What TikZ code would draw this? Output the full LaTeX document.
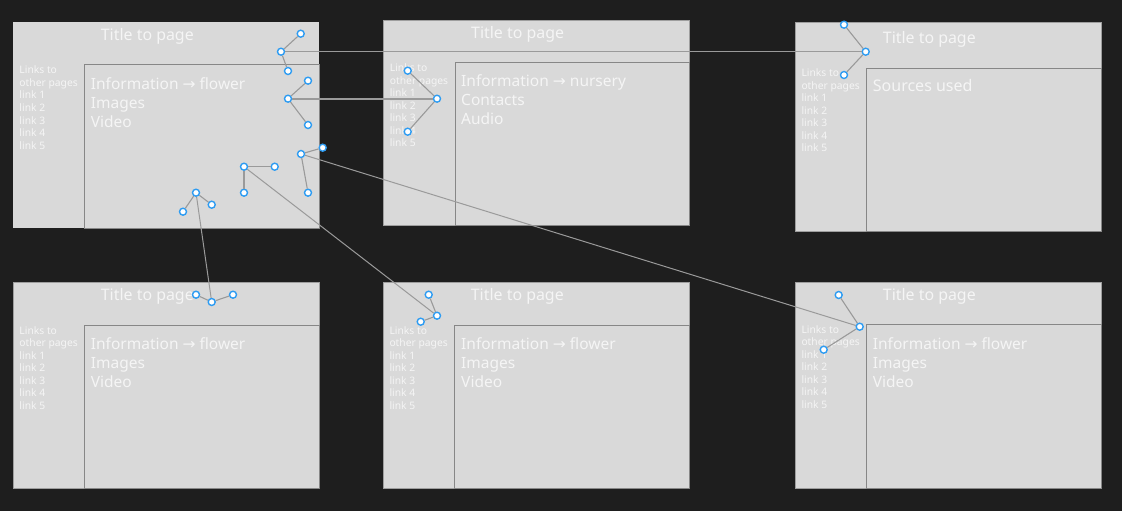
\documentclass[tikz,border=0pt]{standalone}
\usepackage{fontspec}
\setmainfont{Noto Sans}
\newfontfamily\arrowfont{DejaVu Sans}
\newcommand\rarr{{\arrowfont →}}
\definecolor{bg}{HTML}{1E1E1E}
\definecolor{panelgray}{HTML}{D9D9D9}
\definecolor{panelborder}{HTML}{9E9E9E}
\definecolor{innerline}{HTML}{878787}
\definecolor{txt}{HTML}{F5F5F5}
\definecolor{connline}{HTML}{9A9A9A}
\definecolor{handleblue}{HTML}{2E9CF2}
\newcommand\linkcol[3]{%
  \foreach \t [count=\i from 0] in {Links to,other pages,link 1,link 2,link 3,link 4,link 5}
    {\node[smalltxt] (#1-l\i) at (#2,{#3+12.5*\i}) {\t};}}
\newcommand\contentcol[6]{%
  \node[bigtxt] (#1-c0) at (#2,#3) {#4};
  \node[bigtxt] (#1-c1) at (#2,#3+19) {#5};
  \node[bigtxt] (#1-c2) at (#2,#3+38) {#6};}
\begin{document}
\begin{tikzpicture}[x=1pt,y=-1pt,
  panel/.style={fill=panelgray,draw=panelborder,line width=0.5pt},
  innerbox/.style={draw=innerline,line width=1pt},
  titletxt/.style={anchor=base west,inner sep=0pt,text=txt,font=\fontsize{15.9}{18}\selectfont},
  bigtxt/.style={anchor=base west,inner sep=0pt,text=txt,font=\fontsize{15.5}{19}\selectfont},
  smalltxt/.style={anchor=base west,inner sep=0pt,text=txt,font=\fontsize{10.3}{12}\selectfont},
  handle/.style={circle,draw=handleblue,fill=white,line width=1.4pt,minimum size=7pt,inner sep=0pt},
  conn/.style={draw=connline,line width=1.1pt},
  longconn/.style={draw=connline,line width=1pt}]
\useasboundingbox[fill=bg] (0,0) rectangle (1122,511);
% panels
\path[panel,draw=none] (13,22) rectangle (319,228);
\path[innerbox] (84.7,64.3) rectangle (319,228);
\path[panel] (383,20) rectangle (689,225);
\path[innerbox] (455.7,62.3) rectangle (689,225);
\path[panel] (795,22) rectangle (1101,231);
\path[innerbox] (866.3,68.3) rectangle (1101,231);
\path[panel] (13,282) rectangle (319,488);
\path[innerbox] (84.7,325.3) rectangle (319,488);
\path[panel] (383,282) rectangle (689,488);
\path[innerbox] (454.7,325.3) rectangle (689,488);
\path[panel] (795,282) rectangle (1101,488);
\path[innerbox] (866.3,324.3) rectangle (1101,488);
% texts
\node[titletxt] (t1) at (100.7,41) {Title to page};
\node[titletxt] (t2) at (471,38.3) {Title to page};
\node[titletxt] (t3) at (882.7,44) {Title to page};
\node[titletxt] (t4) at (100.7,300.7) {Title to page};
\node[titletxt] (t5) at (470.7,300.7) {Title to page};
\node[titletxt] (t6) at (882.7,300.7) {Title to page};
\linkcol{p1}{19.3}{74}
\linkcol{p2}{389.7}{71.7}
\linkcol{p3}{801.3}{76.7}
\linkcol{p4}{19.3}{334}
\linkcol{p5}{389.3}{334}
\linkcol{p6}{801.3}{333.3}
\contentcol{p1}{90.7}{89}{Information \rarr{} flower}{Images}{Video}
\contentcol{p2}{461}{86.7}{Information \rarr{} nursery}{Contacts}{Audio}
\node[bigtxt,font=\fontsize{16}{19}\selectfont] (p3-c0) at (872.7,91.7) {Sources used};
\contentcol{p4}{90.7}{349}{Information \rarr{} flower}{Images}{Video}
\contentcol{p5}{461}{349}{Information \rarr{} flower}{Images}{Video}
\contentcol{p6}{872.7}{349}{Information \rarr{} flower}{Images}{Video}
% handles
\node[handle] (a0) at (281,51.7) {};
\node[handle] (a1) at (300.7,33.7) {};
\node[handle] (a2) at (288,71) {};
\node[handle] (b0) at (865.7,51.7) {};
\node[handle] (b1) at (844,24.7) {};
\node[handle] (b2) at (844,75) {};
\node[handle] (c0) at (288,98.7) {};
\node[handle] (c1) at (308,80.7) {};
\node[handle] (c2) at (308,125) {};
\node[handle] (d0) at (437,98.7) {};
\node[handle] (d1) at (407.7,70.7) {};
\node[handle] (d2) at (407.7,131.7) {};
\node[handle] (e0) at (301,154) {};
\node[handle] (e1) at (322.7,147.7) {};
\node[handle] (e2) at (308,192.7) {};
\node[handle] (f0) at (859.7,326.7) {};
\node[handle] (f1) at (838.7,295) {};
\node[handle] (f2) at (823.7,349.7) {};
\node[handle] (g0) at (244,166.7) {};
\node[handle] (g1) at (274.7,166.7) {};
\node[handle] (g2) at (244,192.7) {};
\node[handle] (h0) at (437,315.7) {};
\node[handle] (h1) at (428.7,294.7) {};
\node[handle] (h2) at (420.7,321.7) {};
\node[handle] (i0) at (196,192.7) {};
\node[handle] (i1) at (183,211.7) {};
\node[handle] (i2) at (211.7,204.7) {};
\node[handle] (j0) at (211.7,302) {};
\node[handle] (j1) at (196,294.7) {};
\node[handle] (j2) at (233,294.7) {};
% connectors
\foreach \g in {a,b,c,d,e,f,g,h,i,j}{
  \draw[conn] (\g0) -- (\g1);
  \draw[conn] (\g0) -- (\g2);}
\draw[longconn] (a0) -- (b0);
\draw[conn,line width=1.6pt] (c0) -- (d0);
\draw[longconn] (e0) -- (f0);
\draw[longconn] (g0) -- (h0);
\draw[longconn] (i0) -- (j0);
\end{tikzpicture}
\end{document}
